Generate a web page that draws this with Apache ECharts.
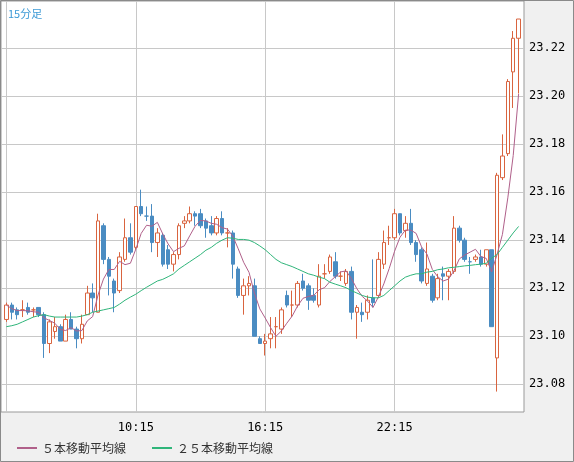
<!DOCTYPE html>
<html><head><meta charset="utf-8">
<script src="https://cdn.jsdelivr.net/npm/echarts@6/dist/echarts.min.js"></script>
<style>html,body{margin:0;padding:0;background:#f0f0f0}#c{width:574px;height:462px}</style>
</head><body><div id="c"></div>
<script>
const opens =[23.107,23.113,23.111,23.111,23.112,23.111,23.112,23.109,23.097,23.102,23.104,23.098,23.107,23.103,23.099,23.109,23.118,23.110,23.146,23.132,23.123,23.119,23.132,23.141,23.137,23.154,23.150,23.150,23.139,23.142,23.136,23.130,23.134,23.147,23.148,23.151,23.151,23.148,23.146,23.143,23.149,23.143,23.143,23.128,23.117,23.121,23.121,23.099,23.097,23.099,23.104,23.103,23.117,23.113,23.113,23.123,23.121,23.117,23.113,23.126,23.127,23.131,23.125,23.122,23.127,23.110,23.110,23.110,23.116,23.117,23.130,23.141,23.141,23.151,23.144,23.147,23.139,23.136,23.122,23.125,23.116,23.126,23.125,23.127,23.145,23.140,23.131,23.132,23.133,23.130,23.136,23.091,23.166,23.176,23.210,23.224];
const closes=[23.113,23.110,23.109,23.111,23.110,23.111,23.109,23.097,23.106,23.104,23.098,23.107,23.103,23.099,23.105,23.118,23.116,23.148,23.132,23.125,23.118,23.133,23.141,23.135,23.154,23.151,23.150,23.139,23.143,23.130,23.130,23.134,23.146,23.148,23.151,23.150,23.146,23.145,23.143,23.149,23.143,23.143,23.130,23.117,23.121,23.122,23.100,23.097,23.098,23.101,23.104,23.111,23.113,23.113,23.122,23.120,23.115,23.115,23.125,23.126,23.133,23.125,23.125,23.127,23.110,23.112,23.109,23.115,23.114,23.132,23.139,23.141,23.151,23.143,23.147,23.139,23.134,23.123,23.128,23.115,23.124,23.125,23.127,23.145,23.140,23.132,23.131,23.133,23.130,23.136,23.104,23.167,23.175,23.206,23.224,23.232];
const lows  =[23.106,23.107,23.107,23.108,23.109,23.108,23.108,23.091,23.093,23.099,23.098,23.098,23.103,23.095,23.097,23.109,23.110,23.110,23.130,23.117,23.110,23.118,23.131,23.134,23.136,23.150,23.148,23.135,23.133,23.129,23.128,23.127,23.132,23.145,23.147,23.146,23.145,23.141,23.142,23.142,23.142,23.137,23.124,23.116,23.109,23.117,23.100,23.097,23.092,23.095,23.095,23.101,23.112,23.108,23.112,23.119,23.111,23.114,23.112,23.124,23.126,23.124,23.123,23.121,23.107,23.099,23.106,23.107,23.112,23.116,23.128,23.138,23.140,23.142,23.141,23.138,23.131,23.122,23.121,23.114,23.115,23.115,23.115,23.126,23.139,23.131,23.126,23.131,23.129,23.129,23.104,23.077,23.165,23.175,23.195,23.201];
const highs =[23.114,23.114,23.112,23.115,23.114,23.112,23.112,23.110,23.107,23.108,23.105,23.109,23.110,23.104,23.109,23.121,23.122,23.151,23.147,23.133,23.124,23.135,23.149,23.147,23.154,23.161,23.154,23.155,23.145,23.143,23.138,23.135,23.147,23.150,23.154,23.152,23.153,23.149,23.150,23.150,23.152,23.145,23.144,23.129,23.124,23.125,23.124,23.100,23.101,23.108,23.108,23.112,23.119,23.119,23.123,23.126,23.122,23.120,23.130,23.130,23.134,23.135,23.127,23.128,23.129,23.113,23.114,23.117,23.132,23.135,23.144,23.146,23.153,23.151,23.150,23.153,23.140,23.137,23.139,23.126,23.126,23.129,23.128,23.150,23.146,23.141,23.133,23.134,23.136,23.136,23.136,23.168,23.184,23.207,23.227,23.232];
const ma25 =[23.104,23.1044,23.105,23.106,23.107,23.108,23.1086,23.109,23.1084,23.108,23.108,23.108,23.108,23.108,23.1084,23.109,23.110,23.1105,23.111,23.1115,23.112,23.1134,23.115,23.1163,23.1175,23.119,23.1204,23.1217,23.123,23.1237,23.1248,23.126,23.128,23.1295,23.131,23.1325,23.134,23.1358,23.137,23.1387,23.140,23.141,23.1408,23.1403,23.1403,23.140,23.139,23.1376,23.136,23.134,23.132,23.1306,23.1298,23.129,23.128,23.127,23.126,23.1254,23.1246,23.124,23.1225,23.1217,23.121,23.1202,23.119,23.118,23.117,23.1163,23.116,23.116,23.117,23.119,23.121,23.123,23.1246,23.1254,23.126,23.126,23.1267,23.127,23.1277,23.128,23.1285,23.1287,23.129,23.1293,23.1295,23.1298,23.130,23.1304,23.1325,23.134,23.137,23.140,23.143,23.1457];
const yTicks=[23.08,23.10,23.12,23.14,23.16,23.18,23.20,23.22];
const xLabels=['10:15','16:15','22:15'];
const xGrid=['4:15','10:15','16:15','22:15'];

const times=[' '];
for(let i=0;i<96;i++){const m=4*60+15+i*15;const h=Math.floor(m/60)%24;const mm=m%60;times.push(h+':'+(mm<10?'0':'')+mm);}
times.push('  ');
const candles=[['-','-','-','-']];
for(let i=0;i<opens.length;i++)candles.push([opens[i],closes[i],lows[i],highs[i]]);
candles.push(['-','-','-','-']);
const ma5=['-'];
for(let i=0;i<closes.length;i++){const s=closes.slice(Math.max(0,i-4),i+1);ma5.push(+(s.reduce((a,b)=>a+b,0)/s.length).toFixed(4));}
ma5.push('-');
const m25=['-'].concat(ma25,['-']);

const chart=echarts.init(document.getElementById('c'),null,{renderer:'canvas'});
chart.setOption({
  animation:false,
  backgroundColor:'#f0f0f0',
  textStyle:{fontFamily:'DejaVu Sans'},
  title:{text:'15分足',left:3,top:3,textStyle:{fontSize:11,fontWeight:'normal',color:'#3d9ad6',fontFamily:'Noto Sans CJK JP'}},
  legend:{left:12,top:437,itemWidth:20,itemHeight:2,itemGap:26,icon:'rect',
    textStyle:{fontSize:12,color:'#333',fontFamily:'Noto Sans CJK JP'},
    data:['５本移動平均線','２５本移動平均線']},
  graphic:[{type:'rect',shape:{x:0.5,y:0.5,width:573,height:461},style:{fill:'none',stroke:'#8a8a8a',lineWidth:1},z:100}],
  grid:{left:1,right:50,top:1,bottom:50,show:true,backgroundColor:'#fff',borderColor:'#999',borderWidth:1},
  xAxis:{type:'category',data:times,boundaryGap:false,
    axisLine:{show:false},axisTick:{show:false},
    axisLabel:{interval:(i,v)=>xLabels.includes(v),color:'#000',fontSize:12,margin:10,fontFamily:'DejaVu Sans Mono'},
    splitLine:{show:true,interval:(i,v)=>xGrid.includes(v),lineStyle:{color:'#c8c8c8'}}},
  yAxis:{type:'value',position:'right',min:23.0685,max:23.2395,
    axisLine:{show:false},
    axisTick:{show:false,customValues:yTicks},
    axisLabel:{customValues:yTicks,color:'#000',fontSize:12,margin:5,formatter:v=>v.toFixed(2),fontFamily:'DejaVu Sans Mono'},
    splitLine:{show:true,lineStyle:{color:'#c8c8c8'}}},
  series:[
    {type:'candlestick',data:candles,barWidth:4,
      itemStyle:{color:'#ffffff',color0:'#4a8cc2',borderColor:'#d9643f',borderColor0:'#4a8cc2',borderWidth:1}},
    {name:'５本移動平均線',type:'line',data:ma5,symbol:'none',lineStyle:{width:1,color:'#b0608a'},itemStyle:{color:'#b0608a'}},
    {name:'２５本移動平均線',type:'line',data:m25,symbol:'none',lineStyle:{width:1,color:'#2fb57a'},itemStyle:{color:'#2fb57a'}}
  ]
});
</script></body></html>
